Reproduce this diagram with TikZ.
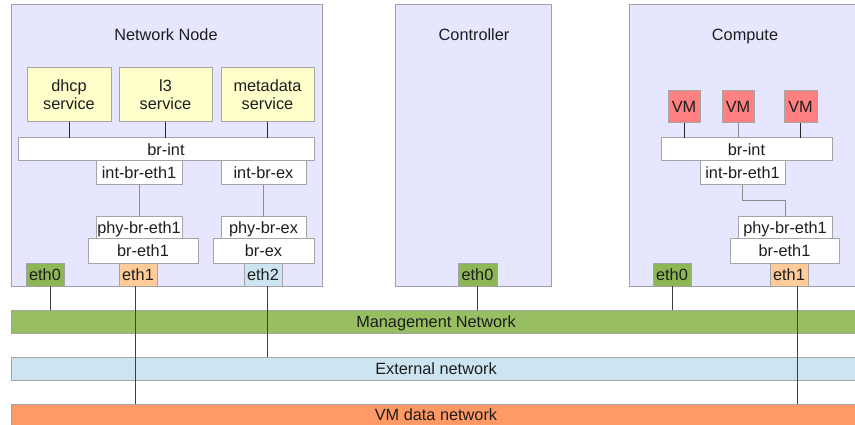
\documentclass[tikz,border=0pt]{standalone}
\usepackage{fontspec}
\setmainfont{Liberation Sans}
\definecolor{hostfill}{RGB}{230,230,255}
\definecolor{hostline}{RGB}{160,160,170}
\definecolor{boxline}{RGB}{165,165,165}
\definecolor{svcfill}{RGB}{255,255,204}
\definecolor{vmfill}{RGB}{255,128,128}
\definecolor{mgmtfill}{RGB}{151,190,96}
\definecolor{ethgreen}{RGB}{141,182,84}
\definecolor{extfill}{RGB}{205,229,243}
\definecolor{vmnetfill}{RGB}{255,153,102}
\definecolor{ethorange}{RGB}{255,204,153}
\definecolor{txt}{RGB}{30,30,30}
\begin{document}
\begin{tikzpicture}[x=1pt,y=-1pt,
  every node/.style={font=\fontsize{16.3}{18}\selectfont, text=txt, inner sep=0pt, outer sep=0pt},
  host/.style={draw=hostline, fill=hostfill, line width=1pt},
  frame/.style={draw=boxline, fill=white, line width=1pt},
  box/.style={frame, text height=11.6pt, text depth=0pt},
  svc/.style={frame, fill=svcfill, align=center},
  vm/.style={box, fill=vmfill, minimum width=32, minimum height=32},
  eth/.style={box, minimum width=38, minimum height=23},
  netbar/.style={draw=boxline, line width=1pt, minimum width=859, minimum height=23},
  label/.style={anchor=base},
  dark/.style={draw=black!85, line width=0.9pt},
  grey/.style={draw=black!45, line width=0.9pt},
  wire/.style={draw=black!75, line width=0.8pt}
]
\useasboundingbox (0,0) rectangle (855,425);
\clip (0,0) rectangle (855,425);
% hosts
\node[host, minimum width=311, minimum height=281] (nn) at (166.5,145.5) {};
\node[host, minimum width=156, minimum height=281] (ctl) at (473,145.5) {};
\node[host, minimum width=241, minimum height=281] (cmp) at (749.5,145.5) {};
\node[label] (nnt) at (166,41) {Network Node};
\node[label] (ctlt) at (474,41) {Controller};
\node[label] (cmpt) at (745,41) {Compute};
% network node
\node[svc, minimum width=84, minimum height=54] (dhcp) at (69,95) {dhcp\\service};
\node[svc, minimum width=93, minimum height=54] (lthree) at (165.5,95) {l3\\service};
\node[svc, minimum width=93, minimum height=54] (meta) at (267.5,95) {metadata\\service};
\node[box, minimum width=296, minimum height=23] (brint) at (166,149.5) {br-int};
\node[box, minimum width=86, minimum height=24] (intbreth) at (139,173) {int-br-eth1};
\node[box, minimum width=85, minimum height=24] (intbrex) at (263.5,173) {int-br-ex};
\node[box, minimum width=86, minimum height=22] (phybreth) at (139,228) {phy-br-eth1};
\node[box, minimum width=110, minimum height=24] (breth) at (143,251) {br-eth1};
\node[box, minimum width=85, minimum height=22] (phybrex) at (263.5,228) {phy-br-ex};
\node[box, minimum width=101, minimum height=24] (brex) at (263.5,251) {br-ex};
\node[eth, fill=ethgreen] (nneth0) at (45,274.5) {eth0};
\node[eth, fill=ethorange] (nneth1) at (138,274.5) {eth1};
\node[eth, fill=extfill] (nneth2) at (263,274.5) {eth2};
% controller
\node[eth, fill=ethgreen, minimum width=39] (ctleth0) at (477.5,274.5) {eth0};
% compute
\node[vm] (vma) at (684,107) {VM};
\node[vm] (vmb) at (738,107) {VM};
\node[vm, minimum width=33] (vmc) at (800.5,107) {VM};
\node[box, minimum width=171, minimum height=23] (cbrint) at (746.5,149.5) {br-int};
\node[box, minimum width=85, minimum height=24] (cintbreth) at (742.5,173) {int-br-eth1};
\node[box, minimum width=94, minimum height=22] (cphybreth) at (785,228) {phy-br-eth1};
\node[box, minimum width=109, minimum height=24] (cbreth) at (784.5,251) {br-eth1};
\node[eth, fill=ethgreen] (ceth0) at (672,274.5) {eth0};
\node[eth, fill=ethorange] (ceth1) at (789,274.5) {eth1};
% networks
\node[netbar, fill=mgmtfill] (mgmt) at (440.5,321.5) {};
\node[netbar, fill=extfill] (ext) at (440.5,368.5) {};
\node[netbar, fill=vmnetfill, minimum height=24] (vmnet) at (440.5,416) {};
\node[label] (mgmtt) at (436,327) {Management Network};
\node[label] (extt) at (436,374) {External network};
\node[label] (vmnett) at (436,420.5) {VM data network};
% connectors in network node
\draw[dark] (dhcp.south) -- (dhcp.south |- brint.north);
\draw[dark] (lthree.south) -- (lthree.south |- brint.north);
\draw[dark] (meta.south) -- (meta.south |- brint.north);
\draw[grey] (intbreth.south) -- (phybreth.north);
\draw[grey] (intbrex.south) -- (phybrex.north);
% compute connectors
\draw[dark] (vma.south) -- (vma.south |- cbrint.north);
\draw[grey] (vmb.south) -- (vmb.south |- cbrint.north);
\draw[dark] (vmc.south) -- (vmc.south |- cbrint.north);
\draw[grey] (cintbreth.south) -- ++(0,15) -| (cphybreth.north);
% eth to networks
\draw[wire] ([xshift=5]nneth0.south) -- ([xshift=5]nneth0.south |- mgmt.north);
\draw[wire] ([xshift=-3]nneth1.south) -- ([xshift=-3]nneth1.south |- vmnet.north);
\draw[wire] ([xshift=4]nneth2.south) -- ([xshift=4]nneth2.south |- ext.north);
\draw[wire] (ctleth0.south) -- (ctleth0.south |- mgmt.north);
\draw[wire] (ceth0.south) -- (ceth0.south |- mgmt.north);
\draw[wire] ([xshift=8]ceth1.south) -- ([xshift=8]ceth1.south |- vmnet.north);
\end{tikzpicture}
\end{document}
